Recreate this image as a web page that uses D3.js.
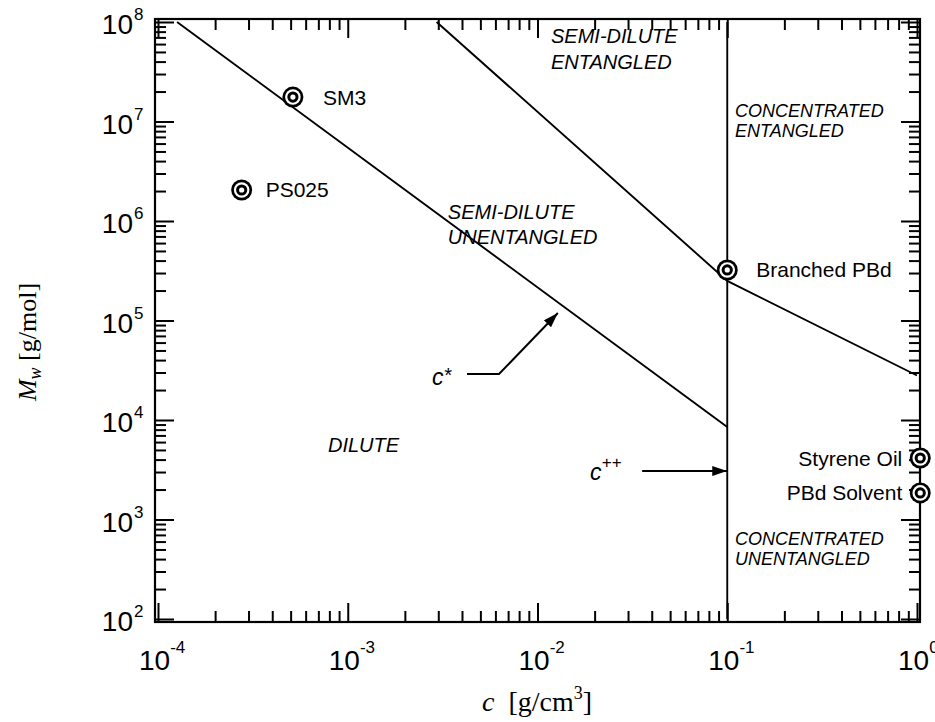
<!DOCTYPE html>
<html><head><meta charset="utf-8">
<script src="https://cdn.jsdelivr.net/npm/d3@7"></script>
<style>body{margin:0;background:#fff}</style>
</head><body>
<svg id="chart" width="935" height="722"></svg>
<script>
// ---- data ----
const xMajorTicks = [1e-4, 1e-3, 1e-2, 1e-1, 1];
const xTickExponents = ["-4", "-3", "-2", "-1", "0"];
const yMajorTicks = [1e2, 1e3, 1e4, 1e5, 1e6, 1e7, 1e8];
const yTickExponents = ["2", "3", "4", "5", "6", "7", "8"];

// boundary lines (c in g/cm^3, Mw in g/mol)
const cStarC = [1.26e-4, 0.1];
const cStarM = [1e8, 8.5e3];
const entangleC = [2.94e-3, 0.1, 1];
const entangleM = [1e8, 2.5e5, 2.8e4];
const cPlusPlusC = [0.1, 0.1];
const cPlusPlusM = [1e2, 1e8];

// samples
const sampleNames = ["SM3", "PS025", "Branched PBd", "Styrene Oil", "PBd Solvent"];
const sampleC = [5.14e-4, 2.76e-4, 0.1, 1.04, 1.04];
const sampleM = [1.76e7, 2.05e6, 3.22e5, 4.15e3, 1.85e3];

// region labels
const regionLines = [["SEMI-DILUTE", "ENTANGLED"], ["CONCENTRATED", "ENTANGLED"], ["SEMI-DILUTE", "UNENTANGLED"], ["DILUTE"], ["CONCENTRATED", "UNENTANGLED"]];
const regionC = [0.01178, 0.110, 3.37e-3, 7.87e-4, 0.110];
const regionM = [6.15e7, 1.11e7, 1.05e6, 4.77e3, 555];

// annotation arrows
const cStarArrowC = [4.25e-3, 6.27e-3, 1.28e-2];
const cStarArrowM = [2.9e4, 2.9e4, 1.19e5];
const cppArrowC = [0.0356, 0.1];
const cppArrowM = [3070, 3070];
const cStarLabel = {c: 2.78e-3, M: 2.25e4};
const cppLabel = {c: 0.0189, M: 2.49e3};

// ---- styles / layout ----
const svg = d3.select("#chart");
const frame = {left: 155, right: 920, top: 19, bottom: 622};
const x = d3.scaleLog().domain([1e-4, 1]).range([158, 917]);
const y = d3.scaleLog().domain([1e2, 1e8]).range([619, 22]);
const sans = "'Liberation Sans', Arial, sans-serif";
const serif = "'Liberation Serif', 'Times New Roman', serif";

function minors(lo, hi) {
  const out = [];
  for (let e = lo; e < hi; e++) for (let k = 2; k <= 9; k++) out.push(k * Math.pow(10, e));
  return out;
}
const xMinor = minors(-4, 0);
const yMinor = minors(2, 8);

const axesG = svg.append("g");
function drawAxis(axisFn, scale, vals, size, transform) {
  const g = axesG.append("g").attr("transform", transform)
    .call(axisFn(scale).tickValues(vals).tickSize(-size).tickFormat(""));
  g.select(".domain").remove();
  g.selectAll(".tick line").attr("stroke", "#000").attr("stroke-width", 2);
}
[[xMajorTicks, 19], [xMinor, 11]].forEach(([v, s]) => {
  drawAxis(d3.axisBottom, x, v, s, `translate(0,${frame.bottom})`);
  drawAxis(d3.axisTop, x, v, s, `translate(0,${frame.top})`);
});
[[yMajorTicks, 19], [yMinor, 11]].forEach(([v, s]) => {
  drawAxis(d3.axisLeft, y, v, s, `translate(${frame.left},0)`);
  drawAxis(d3.axisRight, y, v, s, `translate(${frame.right},0)`);
});

svg.append("rect").attr("x", frame.left).attr("y", frame.top)
  .attr("width", frame.right - frame.left).attr("height", frame.bottom - frame.top)
  .attr("fill", "none").attr("stroke", "#000").attr("stroke-width", 2.2);

// tick labels
xMajorTicks.forEach((v, i) => {
  const t = svg.append("text").attr("x", x(v) - 19).attr("y", 670)
    .attr("font-family", sans).attr("font-size", 28).attr("fill", "#000");
  t.append("tspan").text("10");
  t.append("tspan").attr("font-size", 17).attr("dy", -17).text(xTickExponents[i]);
});
yMajorTicks.forEach((v, i) => {
  svg.append("text").attr("x", 133).attr("y", y(v) + 12).attr("text-anchor", "end")
    .attr("font-family", sans).attr("font-size", 28).text("10");
  svg.append("text").attr("x", 134).attr("y", y(v) - 2)
    .attr("font-family", sans).attr("font-size", 17).text(yTickExponents[i]);
});

// axis titles
const xt = svg.append("text").attr("x", 482).attr("y", 711)
  .attr("font-family", serif).attr("font-size", 28).attr("xml:space", "preserve");
xt.append("tspan").attr("font-style", "italic").text("c");
xt.append("tspan").text("  [g/cm");
xt.append("tspan").attr("font-size", 18).attr("dy", -12).text("3");
xt.append("tspan").attr("dy", 12).text("]");

const yt = svg.append("text").attr("transform", "translate(36,342) rotate(-90)")
  .attr("text-anchor", "middle").attr("font-family", serif).attr("font-size", 26);
yt.append("tspan").attr("font-style", "italic").text("M");
yt.append("tspan").attr("font-style", "italic").attr("font-size", 18).attr("dy", 5).text("w");
yt.append("tspan").attr("dy", -5).text(" [g/mol]");

// boundary lines
const line = d3.line().x(d => x(d[0])).y(d => y(d[1]));
const lineStyle = sel => sel.attr("fill", "none").attr("stroke", "#000").attr("stroke-width", 1.9);
svg.append("path").attr("d", line(d3.zip(cStarC, cStarM))).call(lineStyle);
svg.append("path").attr("d", line(d3.zip(entangleC, entangleM))).call(lineStyle);
svg.append("path").attr("d", line(d3.zip(cPlusPlusC, cPlusPlusM))).call(lineStyle);

// arrows
svg.append("defs").append("marker").attr("id", "ah")
  .attr("viewBox", "0 0 15 10").attr("markerWidth", 15).attr("markerHeight", 10)
  .attr("refX", 15).attr("refY", 5).attr("orient", "auto").attr("markerUnits", "userSpaceOnUse")
  .append("path").attr("d", "M0,0 L15,5 L0,10 Z").attr("fill", "#000");
svg.append("path").attr("d", line(d3.zip(cStarArrowC, cStarArrowM)))
  .attr("fill", "none").attr("stroke", "#000").attr("stroke-width", 2).attr("marker-end", "url(#ah)");
svg.append("path").attr("d", line(d3.zip(cppArrowC, cppArrowM)))
  .attr("fill", "none").attr("stroke", "#000").attr("stroke-width", 2).attr("marker-end", "url(#ah)");

const cs = svg.append("text").attr("x", x(cStarLabel.c)).attr("y", y(cStarLabel.M))
  .attr("font-family", sans).attr("font-style", "italic").attr("font-size", 23);
cs.append("tspan").text("c");
cs.append("tspan").attr("font-size", 20).attr("dy", -3).text("*");
const cp = svg.append("text").attr("x", x(cppLabel.c)).attr("y", y(cppLabel.M))
  .attr("font-family", sans).attr("font-style", "italic").attr("font-size", 23);
cp.append("tspan").text("c");
cp.append("tspan").attr("font-size", 17).attr("dy", -12).text("++");

// region labels
const regionSize = [20, 18, 20, 20, 18];
const regionGap = [26, 20, 25, 0, 20];
regionLines.forEach((lines, i) => {
  const t = svg.append("text").attr("font-family", sans).attr("font-style", "italic")
    .attr("font-size", regionSize[i]);
  lines.forEach((s, j) => t.append("tspan").attr("x", x(regionC[i]))
    .attr("y", y(regionM[i]) + j * regionGap[i]).text(s));
});

// sample markers
const labelDx = [30, 24, 29, -18, -18];
const labelAnchor = ["start", "start", "start", "end", "end"];
sampleNames.forEach((name, i) => {
  const g = svg.append("g").attr("transform", `translate(${x(sampleC[i])},${y(sampleM[i])})`);
  g.append("circle").attr("r", 10.5).attr("fill", "#000");
  g.append("circle").attr("r", 7.8).attr("fill", "#fff");
  g.append("circle").attr("r", 5.6).attr("fill", "#000");
  g.append("circle").attr("r", 2.6).attr("fill", "#fff");
  g.append("text").attr("x", labelDx[i]).attr("y", 7.5).attr("text-anchor", labelAnchor[i])
    .attr("font-family", sans).attr("font-size", 21).text(name);
});
</script>
</body></html>
